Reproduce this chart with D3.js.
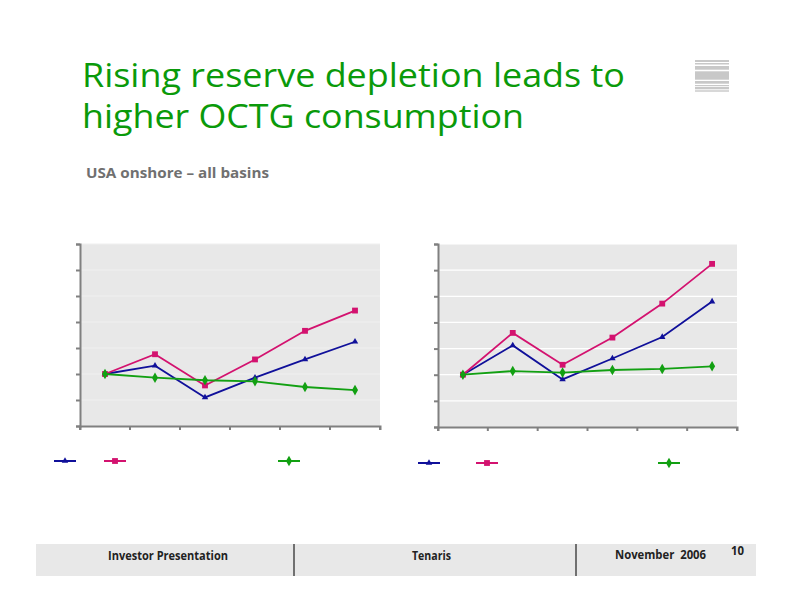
<!DOCTYPE html>
<html><head><meta charset="utf-8">
<script src="https://cdn.jsdelivr.net/npm/d3@7"></script>
<style>body{margin:0;background:#fff}svg{display:block}</style>
</head><body>
<script>
const categories = ["1","2","3","4","5","6"];
const leftBlue  = [100,116,55,93,128,162];
const leftPink  = [100,138,78,128,183,222];
const leftGreen = [100,93,88,86,75,69];
const rightBlue  = [100,156,91,131,172,240];
const rightPink  = [100,180,119,171,236,312];
const rightGreen = [100,107,104,109,111,116];
const yTicks = [0,50,100,150,200,250,300,350];
const colors = {blue:"#10109a", pink:"#d3126f", green:"#12a012"};

const svg = d3.select("body").append("svg").attr("width",792).attr("height",612);

// Title
const title = svg.append("text").attr("fill","#0a9a0a").attr("font-family","'Open Sans', sans-serif").attr("font-size",33);
title.append("tspan").attr("x",82).attr("y",87).text("Rising reserve depletion leads to").attr("textLength",543).attr("lengthAdjust","spacingAndGlyphs");
title.append("tspan").attr("x",82).attr("y",128).text("higher OCTG consumption").attr("textLength",442).attr("lengthAdjust","spacingAndGlyphs");

svg.append("text").attr("x",86).attr("y",178).attr("fill","#707070").attr("font-family","'Open Sans', sans-serif")
  .attr("font-weight","bold").attr("font-size",14).text("USA onshore – all basins").attr("textLength",183).attr("lengthAdjust","spacingAndGlyphs");

// logo stripes
const stripes = [[60,2],[63,1.5],[66,3.7],[71.3,8.4],[81,2.7],[85,1.2],[87,2.3],[90.3,1.4]];
svg.append("g").selectAll("rect").data(stripes).join("rect")
  .attr("x",695).attr("width",34).attr("y",d=>d[0]).attr("height",d=>d[1]).attr("fill","#c8c8c8");

function chart(x0,x1,y0,y1,series,gridColor,legendY,legendX){
  const g = svg.append("g");
  const x = d3.scaleBand().domain(categories).range([x0,x1]);
  const y = d3.scaleLinear().domain([0,350]).range([y1,y0]);
  g.append("rect").attr("x",x0).attr("y",y0).attr("width",x1-x0).attr("height",y1-y0).attr("fill","#e8e8e8");
  g.append("g").selectAll("line").data(yTicks.slice(1)).join("line")
    .attr("x1",x0).attr("x2",x1).attr("y1",d=>y(d)).attr("y2",d=>y(d))
    .attr("stroke",gridColor).attr("stroke-width",1.2);
  const ya = g.append("g").attr("transform",`translate(${x0},0)`)
    .call(d3.axisLeft(y).tickValues(yTicks).tickSize(4).tickFormat(""));
  const xa = g.append("g").attr("transform",`translate(0,${y1})`)
    .call(d3.axisBottom(x).tickSize(4).tickFormat("").tickSizeOuter(4));
  xa.selectAll(".tick").remove();
  xa.selectAll(".edge").data(categories.map(c=>x(c)).concat([x1])).join("line").attr("class","edge")
    .attr("x1",d=>d).attr("x2",d=>d).attr("y1",0).attr("y2",4);
  [ya,xa].forEach(a=>{a.selectAll("path,line").attr("stroke","#808080").attr("stroke-width",2);});
  const line = d3.line().x((d,i)=>x(categories[i])+x.bandwidth()/2).y(d=>y(d));
  series.forEach(s=>{
    g.append("path").datum(s.values).attr("d",line).attr("fill","none").attr("stroke",s.color).attr("stroke-width",1.8);
    g.append("g").selectAll("path").data(s.values).join("path")
      .attr("transform",(d,i)=>`translate(${x(categories[i])+x.bandwidth()/2},${y(d)})`)
      .attr("d",d3.symbol().type(s.symbol).size(s.size)).attr("fill",s.color);
  });
  series.forEach((s,i)=>{
    const lx = legendX[i];
    g.append("line").attr("x1",lx).attr("x2",lx+22).attr("y1",legendY).attr("y2",legendY).attr("stroke",s.color).attr("stroke-width",2);
    g.append("path").attr("transform",`translate(${lx+11},${legendY})`).attr("d",d3.symbol().type(s.symbol).size(s.size)).attr("fill",s.color);
  });
}

chart(80,380,244,426,[
  {values:leftBlue,color:colors.blue,symbol:d3.symbolTriangle,size:18},
  {values:leftPink,color:colors.pink,symbol:d3.symbolSquare,size:34},
  {values:leftGreen,color:colors.green,symbol:d3.symbolDiamond,size:32}
],"#efefef",461,[54,104,278]);

chart(438,737,244,427,[
  {values:rightBlue,color:colors.blue,symbol:d3.symbolTriangle,size:18},
  {values:rightPink,color:colors.pink,symbol:d3.symbolSquare,size:34},
  {values:rightGreen,color:colors.green,symbol:d3.symbolDiamond,size:32}
],"#ffffff",463,[418,476,658]);

// footer
svg.append("rect").attr("x",36).attr("y",544).attr("width",720).attr("height",32).attr("fill","#e8e8e8");
[294,576].forEach(xx=>svg.append("line").attr("x1",xx).attr("x2",xx).attr("y1",544).attr("y2",576).attr("stroke","#707070").attr("stroke-width",2));
const ft = {"font-family":"'Open Sans', sans-serif","font-weight":"bold","font-size":11.5,"fill":"#222"};
function ftxt(xx,yy,t,anchor,len){const e=svg.append("text").attr("x",xx).attr("y",yy).attr("text-anchor",anchor).text(t);
  Object.entries(ft).forEach(([k,v])=>e.attr(k,v)); if(len) e.attr("textLength",len).attr("lengthAdjust","spacingAndGlyphs"); return e;}
ftxt(108,560,"Investor Presentation","start",120);
ftxt(412,560,"Tenaris","start",39);
ftxt(615,559,"November\u00a0\u00a02006","start",91);
ftxt(731,555,"10","start",13);
</script>
</body></html>
